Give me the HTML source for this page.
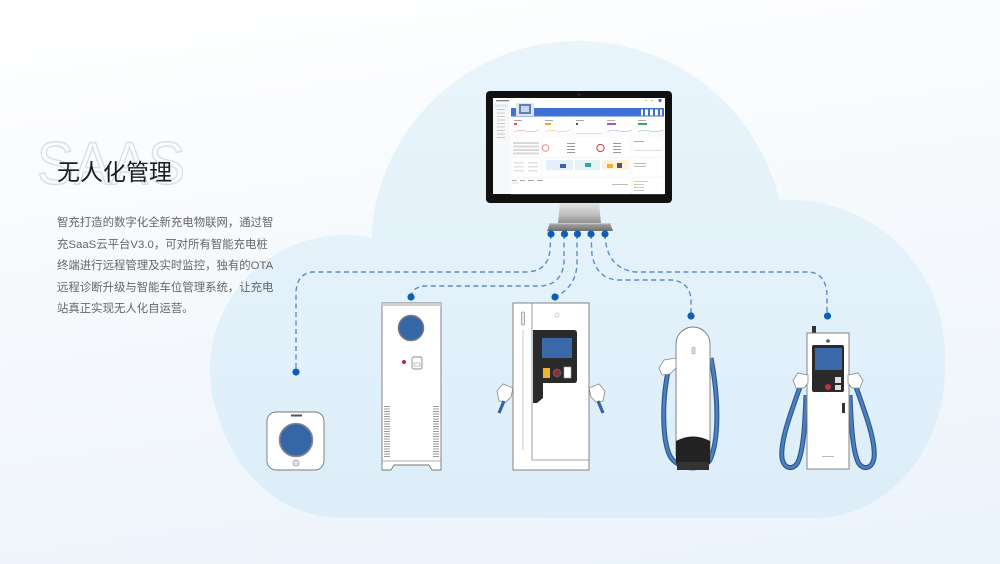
<!DOCTYPE html>
<html><head><meta charset="utf-8">
<style>
html,body{margin:0;padding:0;}
body{width:1000px;height:564px;overflow:hidden;position:relative;background:linear-gradient(172deg,#ffffff 0%,#f6f9fc 45%,#ebf3fb 100%);font-family:"Liberation Sans","Noto Sans CJK SC",sans-serif;}
svg{position:absolute;left:0;top:0;}
.h{position:absolute;left:57px;top:157px;font-size:23px;color:#1c1c1c;line-height:30px;white-space:nowrap;font-family:"Liberation Sans","Noto Sans CJK SC",sans-serif;}
.p{position:absolute;left:57px;top:213px;font-size:11.4px;color:#666;line-height:21.5px;white-space:nowrap;font-family:"Liberation Sans","Noto Sans CJK SC",sans-serif;}
</style></head><body>
<svg width="1000" height="564" viewBox="0 0 1000 564" xmlns="http://www.w3.org/2000/svg">
<defs>
<linearGradient id="cloud" x1="0" y1="40" x2="0" y2="518" gradientUnits="userSpaceOnUse">
<stop offset="0" stop-color="#e9f4fb"/><stop offset="1" stop-color="#ddeef9"/>
</linearGradient>
<linearGradient id="neck" x1="0" y1="0" x2="0" y2="1">
<stop offset="0" stop-color="#e4e4e4"/><stop offset="0.6" stop-color="#bdbdbd"/><stop offset="1" stop-color="#8e8e8e"/>
</linearGradient>
<linearGradient id="base" x1="0" y1="0" x2="0" y2="1">
<stop offset="0" stop-color="#a9a9a9"/><stop offset="1" stop-color="#6e6e6e"/>
</linearGradient>
</defs>

<!-- cloud -->
<g fill="url(#cloud)">
<circle cx="578" cy="248" r="207"/>
<circle cx="345" cy="370" r="135"/>
<circle cx="790" cy="355" r="155"/>
<path d="M211 368 A130 150 0 0 0 341 518 L815 518 A130 150 0 0 0 945 368 Z"/>
<rect x="345" y="240" width="445" height="200"/>
</g>

<!-- SAAS outline -->
<text x="37" y="184" font-family="Liberation Sans, sans-serif" font-size="60" fill="none" stroke="#d6dee6" stroke-width="1.4" textLength="148" lengthAdjust="spacingAndGlyphs">SAAS</text>
<line x1="57" y1="191" x2="95" y2="191" stroke="#ffffff" stroke-width="1.5"/>

<!-- monitor -->
<rect x="486" y="91" width="186" height="112" rx="4" fill="#111"/>
<circle cx="579" cy="94.5" r="0.8" fill="#555"/>
<rect x="493" y="98" width="172" height="96" fill="#fff"/>
<rect x="496" y="100" width="13" height="1.4" fill="#888"/>
<circle cx="660" cy="100.5" r="1.6" fill="#3b6fd0"/>
<rect x="645" y="100" width="2" height="1" fill="#bbb"/><rect x="651" y="100" width="2" height="1" fill="#bbb"/>
<rect x="493" y="103" width="17" height="91" fill="#f7f8fa"/>
<rect x="494" y="104.5" width="14" height="2.5" fill="#dde8fa"/>
<g fill="#c9c9c9">
<rect x="497" y="109" width="8" height="1"/><rect x="497" y="112.5" width="8" height="1"/><rect x="497" y="116" width="8" height="1"/>
<rect x="497" y="119.5" width="8" height="1"/><rect x="497" y="123" width="8" height="1"/><rect x="497" y="126.5" width="8" height="1"/>
<rect x="497" y="130" width="8" height="1"/><rect x="497" y="133.5" width="8" height="1"/><rect x="497" y="137" width="8" height="1"/>
</g>
<rect x="511" y="108" width="153" height="8.5" fill="#3e70d6"/>
<rect x="516" y="103" width="18" height="13" fill="#dfe6f3"/>
<rect x="519" y="104" width="12" height="10" fill="#5d7fb6"/>
<rect x="521" y="106" width="8" height="6" fill="#c8d6ee"/>
<g fill="#ffffff"><rect x="641" y="109.5" width="2" height="6"/><rect x="645" y="109.5" width="3" height="6"/><rect x="650" y="109.5" width="3" height="6"/><rect x="655" y="109.5" width="3" height="6"/><rect x="660" y="109.5" width="2" height="6"/></g>
<g>
<rect x="512" y="118" width="29" height="17" fill="#fff" stroke="#eee" stroke-width="0.4"/>
<rect x="543" y="118" width="29" height="17" fill="#fff" stroke="#eee" stroke-width="0.4"/>
<rect x="574" y="118" width="29" height="17" fill="#fff" stroke="#eee" stroke-width="0.4"/>
<rect x="605" y="118" width="29" height="17" fill="#fff" stroke="#eee" stroke-width="0.4"/>
<rect x="636" y="118" width="28" height="17" fill="#fff" stroke="#eee" stroke-width="0.4"/>
<rect x="514" y="120" width="8" height="1" fill="#aaa"/><rect x="514" y="123" width="3" height="2" fill="#e05050"/>
<rect x="545" y="120" width="8" height="1" fill="#aaa"/><rect x="545" y="123" width="6" height="2" fill="#f0a030"/>
<rect x="576" y="120" width="8" height="1" fill="#aaa"/><rect x="576" y="123" width="2" height="2" fill="#555"/>
<rect x="607" y="120" width="8" height="1" fill="#aaa"/><rect x="607" y="123" width="9" height="2" fill="#9a5cc8"/>
<rect x="638" y="120" width="8" height="1" fill="#aaa"/><rect x="638" y="123" width="9" height="2" fill="#3aa070"/>
<path d="M514 132 Q520 129 526 131 T539 130" stroke="#f08080" stroke-width="0.5" fill="none"/>
<path d="M545 132 Q551 129 557 131 T570 130" stroke="#f0b060" stroke-width="0.5" fill="none"/>
<path d="M607 132 Q613 129 619 131 T632 130" stroke="#c090e0" stroke-width="0.5" fill="none"/>
<path d="M638 132 Q644 129 650 131 T663 130" stroke="#70c0a0" stroke-width="0.5" fill="none"/>
<rect x="576" y="133" width="26" height="0.6" fill="#ccc"/>
</g>
<rect x="511" y="137" width="30" height="20" fill="#fff" stroke="#eee" stroke-width="0.4"/>
<g fill="#d8d8d8"><rect x="513" y="142" width="26" height="2"/><rect x="513" y="145.5" width="26" height="2"/><rect x="513" y="149" width="26" height="2"/><rect x="513" y="152.5" width="26" height="2"/></g>
<rect x="542" y="137" width="88" height="20" fill="#fff" stroke="#eee" stroke-width="0.4"/>
<circle cx="545.5" cy="148" r="3.3" fill="none" stroke="#e88" stroke-width="1"/>
<circle cx="600.5" cy="148" r="3.6" fill="none" stroke="#e03030" stroke-width="1"/>
<g fill="#999"><rect x="567" y="143" width="8" height="1"/><rect x="567" y="146" width="8" height="1"/><rect x="567" y="149" width="8" height="1"/><rect x="567" y="152" width="8" height="1"/>
<rect x="613" y="143" width="8" height="1"/><rect x="613" y="146" width="8" height="1"/><rect x="613" y="149" width="8" height="1"/><rect x="613" y="152" width="8" height="1"/></g>
<rect x="632" y="137" width="32" height="20" fill="#fff" stroke="#eee" stroke-width="0.4"/>
<rect x="634" y="141" width="10" height="1" fill="#aaa"/><rect x="634" y="150" width="28" height="1" fill="#ddd"/>
<rect x="511" y="158" width="30" height="19" fill="#fff" stroke="#eee" stroke-width="0.4"/>
<g fill="#e2e2e2"><rect x="514" y="162" width="10" height="1.5"/><rect x="528" y="162" width="10" height="1.5"/><rect x="514" y="166" width="10" height="1.5"/><rect x="528" y="166" width="10" height="1.5"/><rect x="514" y="170" width="10" height="1.5"/><rect x="528" y="170" width="10" height="1.5"/></g>
<rect x="542" y="158" width="88" height="19" fill="#fff" stroke="#eee" stroke-width="0.4"/>
<rect x="546" y="160" width="27" height="10" fill="#e6eefb"/>
<rect x="575" y="160" width="25" height="10" fill="#e2f5f3"/>
<rect x="602" y="160" width="27" height="10" fill="#fdf3dc"/>
<rect x="560" y="164" width="6" height="4" fill="#3d5fa8"/><rect x="585" y="163" width="6" height="4" fill="#3aa0a0"/><rect x="607" y="164" width="6" height="4" fill="#f0b030"/><rect x="617" y="163" width="5" height="5" fill="#556"/>
<rect x="632" y="158" width="32" height="19" fill="#fff" stroke="#eee" stroke-width="0.4"/>
<rect x="634" y="163" width="12" height="1" fill="#bbb"/><rect x="634" y="166" width="12" height="1" fill="#bbb"/>
<rect x="511" y="178" width="120" height="16" fill="#fff" stroke="#eee" stroke-width="0.4"/>
<g fill="#aaa"><rect x="512" y="180" width="5" height="1"/><rect x="520" y="180" width="5" height="1"/><rect x="528" y="180" width="6" height="1"/><rect x="537" y="180" width="6" height="1"/></g>
<rect x="512" y="182.5" width="7" height="1" fill="#ddd"/>
<rect x="612" y="184" width="16" height="1" fill="#bbb"/>
<rect x="632" y="178" width="32" height="16" fill="#fff" stroke="#eee" stroke-width="0.4"/>
<g fill="#ccc"><rect x="634" y="181" width="14" height="1"/><rect x="634" y="184" width="10" height="1"/><rect x="634" y="187" width="10" height="1"/><rect x="634" y="190" width="10" height="1"/></g>
<g fill="#f0a020"><rect x="634" y="184" width="1" height="1"/><rect x="634" y="187" width="1" height="1"/></g>
<!-- stand -->
<path d="M560 203 H599 L601 223 H558 Z" fill="url(#neck)"/>
<path d="M550 223 H610 L613 231 H547 Z" fill="url(#base)"/>
<rect x="549" y="223" width="62" height="1.2" fill="#c8c8c8"/>

<!-- dashed connectors -->
<g fill="none" stroke="#5b8dc6" stroke-width="1.4" stroke-dasharray="5 3.5">
<path d="M551 234 L550 250 Q548 272 525 272 L312 272 Q297 274 296 292 L296 372"/>
<path d="M564 234 L564 262 Q562 285 540 286 L425 286 Q412 287 411 297"/>
<path d="M577 234 L577 264 Q576 287 555 297"/>
<path d="M591 234 L592 255 Q597 280 620 280 L672 280 Q690 282 691 300 L691 316"/>
<path d="M605 234 Q606 268 635 272 L810 272 Q826 274 827 295 L827 316"/>
</g>
<g fill="#0e5eb6">
<circle cx="551" cy="234" r="3.6"/><circle cx="564.5" cy="234" r="3.6"/><circle cx="577.5" cy="234" r="3.6"/><circle cx="591" cy="234" r="3.6"/><circle cx="605" cy="234" r="3.6"/>
<circle cx="296" cy="372" r="3.6"/><circle cx="411" cy="297" r="3.6"/><circle cx="555" cy="297" r="3.6"/><circle cx="691" cy="316" r="3.6"/><circle cx="827.5" cy="316" r="3.6"/>
</g>

<!-- device 1 -->
<rect x="267" y="412" width="57" height="58" rx="9" fill="#fff" stroke="#777" stroke-width="0.9"/>
<rect x="291" y="414.5" width="11" height="2" fill="#555"/>
<circle cx="296" cy="440" r="16.5" fill="#3466a8" stroke="#8a8a8a" stroke-width="1.6"/>
<circle cx="296" cy="463" r="3" fill="#e4e4e4" stroke="#999" stroke-width="0.8"/>

<!-- device 2 -->
<path d="M382 303 H441 V470 H432 L429 465 H394 L391 470 H382 Z" fill="#fff" stroke="#777" stroke-width="0.9"/>
<rect x="382" y="303" width="59" height="3" fill="#cfcfcf"/>
<circle cx="411" cy="328" r="12.5" fill="#3466a8" stroke="#777" stroke-width="1.5"/>
<circle cx="404" cy="362" r="2" fill="#b03040"/>
<rect x="412" y="357" width="10" height="12" rx="2" fill="#fff" stroke="#888" stroke-width="0.9"/>
<rect x="414" y="363" width="6" height="3" fill="none" stroke="#999" stroke-width="0.6"/>
<g stroke="#9a9a9a" stroke-width="1">
<path d="M384 406.5H390M384 409H390M384 411.5H390M384 414H390M384 416.5H390M384 419H390M384 421.5H390M384 424H390M384 426.5H390M384 429H390M384 431.5H390M384 434H390M384 436.5H390M384 439H390M384 441.5H390M384 444H390M384 446.5H390M384 449H390M384 451.5H390M384 454H390M384 456.5H390"/>
<path d="M433 406.5H439M433 409H439M433 411.5H439M433 414H439M433 416.5H439M433 419H439M433 421.5H439M433 424H439M433 426.5H439M433 429H439M433 431.5H439M433 434H439M433 436.5H439M433 439H439M433 441.5H439M433 444H439M433 446.5H439M433 449H439M433 451.5H439M433 454H439M433 456.5H439"/>
</g>
<line x1="382" y1="461" x2="441" y2="461" stroke="#999" stroke-width="0.7"/>

<!-- device 3 -->
<path d="M513 388 L503 384 L497 391 L499 401 L506 402 L511 397 Z" fill="#fff" stroke="#888" stroke-width="0.8"/>
<path d="M504 401 L499 413" stroke="#3466a8" stroke-width="3.2"/>
<path d="M589 388 L599 384 L605 391 L603 401 L596 402 L591 397 Z" fill="#fff" stroke="#888" stroke-width="0.8"/>
<path d="M598 401 L603 413" stroke="#3466a8" stroke-width="3.2"/>
<rect x="513" y="303" width="76" height="167" fill="#fff" stroke="#777" stroke-width="0.9"/>
<path d="M532 303 V460 H589" fill="none" stroke="#888" stroke-width="0.8"/>
<rect x="521.5" y="312" width="3" height="13" rx="1.5" fill="#eee" stroke="#888" stroke-width="0.7"/>
<line x1="523" y1="330" x2="523" y2="450" stroke="#bbb" stroke-width="0.8"/>
<circle cx="557" cy="315" r="2" fill="none" stroke="#bbb" stroke-width="0.7"/>
<path d="M533 330 H574 Q577 330 577 333 V380 Q577 383 574 383 H543 V398 L537 403 H533 Z" fill="#2a2a2a"/>
<rect x="542" y="338" width="30" height="20" fill="#3a68a8"/>
<rect x="543" y="368" width="7" height="10" fill="#f0b52a"/>
<circle cx="557" cy="373" r="3.8" fill="#8a3040" stroke="#666" stroke-width="0.8"/>
<rect x="564" y="367" width="7" height="11" fill="#fff" stroke="#aaa" stroke-width="0.6"/>

<!-- device 4 -->
<g fill="none">
<path d="M668 372 C662 400 662 440 670 456 C678 470 702 472 710 460 C719 440 719 400 711 358" stroke="#2c5a91" stroke-width="5"/>
<path d="M668 372 C662 400 662 440 670 456 C678 470 702 472 710 460 C719 440 719 400 711 358" stroke="#4d80bf" stroke-width="2.6"/>
</g>
<path d="M676 456 V344 A17 17 0 0 1 710 344 V456 Z" fill="#fff" stroke="#777" stroke-width="0.9"/>
<path d="M676 441 Q693 432 710 441 V464 H676 Z" fill="#222"/>
<rect x="677" y="462" width="32" height="8" fill="#333"/>
<rect x="692" y="347" width="3" height="7" rx="1.5" fill="#ddd" stroke="#999" stroke-width="0.6"/>
<path d="M676 358 L664 360 L659 368 L662 375 L670 374 L676 368 Z" fill="#fff" stroke="#888" stroke-width="0.8"/>

<!-- device 5 -->
<g fill="none">
<path d="M801 384 C792 410 780 440 782 458 C784 470 794 470 798 462 C804 448 805 420 806 395" stroke="#2c5a91" stroke-width="5"/>
<path d="M801 384 C792 410 780 440 782 458 C784 470 794 470 798 462 C804 448 805 420 806 395" stroke="#4d80bf" stroke-width="2.6"/>
<path d="M855 384 C864 410 876 440 874 458 C872 470 862 470 858 462 C852 448 851 420 850 395" stroke="#2c5a91" stroke-width="5"/>
<path d="M855 384 C864 410 876 440 874 458 C872 470 862 470 858 462 C852 448 851 420 850 395" stroke="#4d80bf" stroke-width="2.6"/>
</g>
<rect x="812" y="326" width="4" height="8" fill="#333"/>
<rect x="807" y="333" width="42" height="136" fill="#fff" stroke="#777" stroke-width="0.9"/>
<circle cx="828" cy="341" r="1.8" fill="#555"/>
<rect x="812" y="345" width="32" height="47" rx="2" fill="#2a2a2a"/>
<rect x="815" y="348" width="27" height="22" fill="#3a68a8"/>
<circle cx="828" cy="387" r="3" fill="#c03040"/>
<rect x="835" y="377" width="6" height="6" fill="#ddd"/>
<rect x="835" y="385" width="6" height="5" fill="#ddd"/>
<rect x="842" y="403" width="3" height="10" fill="#333"/>
<rect x="822" y="456" width="12" height="0.8" fill="#aaa"/>
<path d="M808 375 L798 373 L793 380 L796 388 L804 388 L808 383 Z" fill="#fff" stroke="#888" stroke-width="0.8"/>
<path d="M848 375 L858 373 L863 380 L860 388 L852 388 L848 383 Z" fill="#fff" stroke="#888" stroke-width="0.8"/>
</svg>

<div class="h">无人化管理</div>
<div class="p">智充打造的数字化全新充电物联网，通过智<br>充SaaS云平台V3.0，可对所有智能充电桩<br>终端进行远程管理及实时监控，独有的OTA<br>远程诊断升级与智能车位管理系统，让充电<br>站真正实现无人化自运营。</div>
</body></html>
